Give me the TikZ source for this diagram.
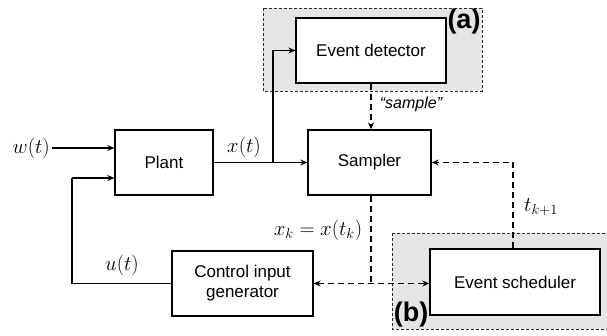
\documentclass[tikz,border=0pt]{standalone}
\usepackage{fontspec}
\setmainfont{Liberation Sans}
\usetikzlibrary{arrows.meta}
\definecolor{regionfill}{HTML}{E5E5E5}
\tikzset{
  blk/.style={draw=black, line width=1.3pt, fill=white, inner sep=0pt, align=center,
    font=\fontsize{17}{20}\selectfont},
  region/.style={draw=black!85, fill=regionfill, line width=1pt, dash pattern=on 3pt off 2pt},
  sig/.style={line width=1.3pt, -{Stealth[length=7pt,width=6pt]}},
  plainsig/.style={line width=1.3pt},
  dsig/.style={line width=1.3pt, dash pattern=on 6pt off 4pt},
  lbl/.style={inner sep=0pt, font=\fontsize{20}{22}\selectfont},
  tag/.style={inner sep=0pt, font=\fontsize{27}{30}\selectfont\bfseries},
}
\begin{document}
\begin{tikzpicture}[x=1pt,y=-1pt]
\useasboundingbox (0,0) rectangle (607,335);
\begin{scope}
\clip (0,0) rectangle (607,335);
\path[region] (263,8) rectangle (482,91);
\path[region] (392,233) rectangle (625,329);
\end{scope}
\node[tag] (taga) at (464,22) {(a)};
\node[tag] (tagb) at (411,315) {(b)};

\node[blk, minimum width=150pt, minimum height=65pt] (ed) at (371,50.5) {Event detector};
\node[blk, minimum width=98pt, minimum height=65pt] (plant) at (164,162.5) {Plant};
\node[blk, minimum width=123pt, minimum height=65pt] (smp) at (369.5,162.5) {Sampler};
\node[blk, minimum width=141pt, minimum height=65pt] (cig) at (242.5,283.5) {Control input\\generator};
\node[blk, minimum width=170pt, minimum height=66pt] (es) at (515,282) {Event scheduler};

% inputs
\coordinate (win) at (52,148);
\draw[sig] (win) -- (win -| plant.west);
\node[lbl, anchor=east] (wl) at (50,148) {$w(t)$};

% x(t)
\coordinate (br) at (273,162.5);
\draw[sig] (plant.east) -- (smp.west);
\draw[sig] (br) |- (ed.west);
\node[lbl] (xl) at (244,147) {$x(t)$};

% u(t)
\coordinate (ucorner) at (72,283.5);
\coordinate (uin) at (72,178);
\draw[plainsig] (cig.west) -- (ucorner) -- (uin);
\draw[sig] (uin) -- (uin -| plant.west);
\node[lbl] (ul) at (122,265) {$u(t)$};

% sample
\draw[dsig, -{Stealth[length=7pt,width=6pt]}] (ed.south) -- (ed.south |- smp.north);
\node[inner sep=0pt, font=\fontsize{16}{18}\selectfont\itshape] (sl) at (411,104) {“sample”};

% sampler to cig / es
\coordinate (sdown) at (371,283.5);
\draw[dsig] (smp.south -| sdown) -- (sdown);
\draw[dsig, {Stealth[length=7pt,width=6pt]}-{Stealth[length=7pt,width=6pt]}] (cig.east) -- (cig.east -| es.west);
\node[lbl] (xkl) at (318,230) {$x_k=x(t_k)$};

% t_{k+1}
\coordinate (tup) at (513,162.5);
\draw[dsig, -{Stealth[length=7pt,width=6pt]}] (es.north -| tup) -- (tup) -- (smp.east);
\node[lbl] (tl) at (541,207) {$t_{k+1}$};
\end{tikzpicture}
\end{document}
